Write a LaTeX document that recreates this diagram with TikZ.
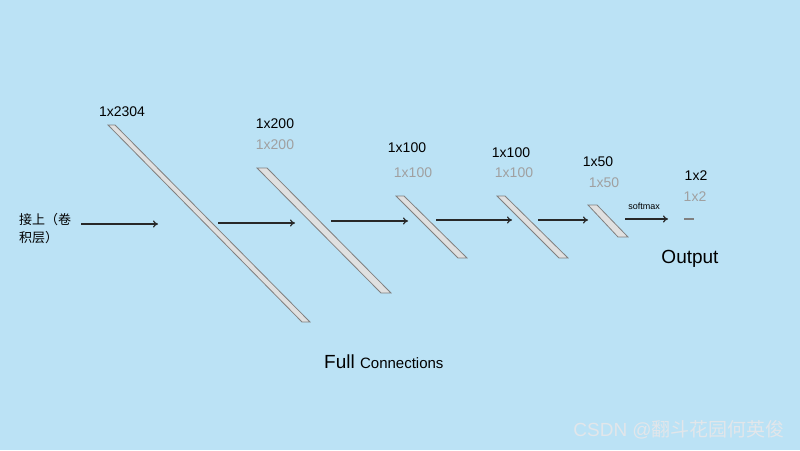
\documentclass[tikz,border=0pt]{standalone}
\usepackage{fontspec}
\setmainfont{Liberation Sans}
\newfontfamily\cjk{Noto Sans CJK SC}
\usetikzlibrary{arrows.meta}
\definecolor{bgblue}{RGB}{187,226,245}
\definecolor{barfill}{RGB}{224,224,224}
\definecolor{baredge}{RGB}{128,128,128}
\definecolor{graytxt}{RGB}{160,160,160}
\definecolor{arrowcol}{RGB}{40,40,40}
\definecolor{wmcol}{RGB}{226,230,234}
\tikzset{
  bar/.style={fill=barfill, draw=baredge, line width=0.8pt, line join=miter},
  conn/.style={draw=arrowcol, line width=1.2pt, -{To[length=5pt,width=7pt]}},
  dimlbl/.style={inner sep=0pt, font=\fontsize{14}{16}\selectfont, text=black},
  dimgray/.style={inner sep=0pt, font=\fontsize{14}{16}\selectfont, text=graytxt},
}
\begin{document}
\begin{tikzpicture}[x=1pt,y=-1pt]
\fill[bgblue] (0,0) rectangle (800,450);
\useasboundingbox (0,0) rectangle (800,450);
% bars
\draw[bar] (108,125) -- (115,125) -- (310,322) -- (302,322) -- cycle;
\draw[bar] (257,168) -- (267,168) -- (391,293) -- (381,293) -- cycle;
\draw[bar] (396,196) -- (404,196) -- (467,258) -- (458,258) -- cycle;
\draw[bar] (497,196) -- (505,196) -- (568,258) -- (559,258) -- cycle;
\draw[bar] (588,205) -- (597,205) -- (628,237) -- (618,237) -- cycle;
\draw[draw=baredge, line width=1.5pt] (684,219) -- (694,219);
% labels
\node[dimlbl] (l1) at (122,112) {1x2304};
\node[dimlbl] (l2) at (275,124) {1x200};
\node[dimgray] (g2) at (275,145) {1x200};
\node[dimlbl] (l3) at (407,148) {1x100};
\node[dimgray] (g3) at (413,173) {1x100};
\node[dimlbl] (l4) at (511,153) {1x100};
\node[dimgray] (g4) at (514,173) {1x100};
\node[dimlbl] (l5) at (598,162) {1x50};
\node[dimgray] (g5) at (604,183) {1x50};
\node[dimlbl] (l6) at (696,176) {1x2};
\node[dimgray] (g6) at (695,197) {1x2};
\node[inner sep=0pt, font=\fontsize{19}{21}\selectfont] (out) at (690,259) {Output};
\node[inner sep=0pt, anchor=west] (full) at (324,362) {\fontsize{19}{21}\selectfont Full \fontsize{15}{17}\selectfont Connections};
\node[inner sep=0pt, anchor=west, align=left, font=\cjk\fontsize{13}{18}\selectfont] (in) at (19,229) {接上（卷\\积层）};
\node[inner sep=0pt, font=\fontsize{9}{10}\selectfont] (sm) at (644,206) {softmax};
\node[inner sep=0pt, anchor=east, text=wmcol, font=\fontsize{19}{21}\selectfont] (wm) at (785,430) {CSDN @{\cjk 翻斗花园何英俊}};
% connectors
\coordinate (a1s) at (81,224); \coordinate (a1e) at (158,224);
\coordinate (a2s) at (218,223); \coordinate (a2e) at (295,223);
\coordinate (a3s) at (331,221); \coordinate (a3e) at (408,221);
\coordinate (a4s) at (436,220); \coordinate (a4e) at (512,220);
\coordinate (a5s) at (538,220); \coordinate (a5e) at (588,220);
\coordinate (a6s) at (625,219); \coordinate (a6e) at (668,219);
\draw[conn] (a1s) -- (a1e);
\draw[conn] (a2s) -- (a2e);
\draw[conn] (a3s) -- (a3e);
\draw[conn] (a4s) -- (a4e);
\draw[conn] (a5s) -- (a5e);
\draw[conn] (a6s) -- (a6e);
\end{tikzpicture}
\end{document}
